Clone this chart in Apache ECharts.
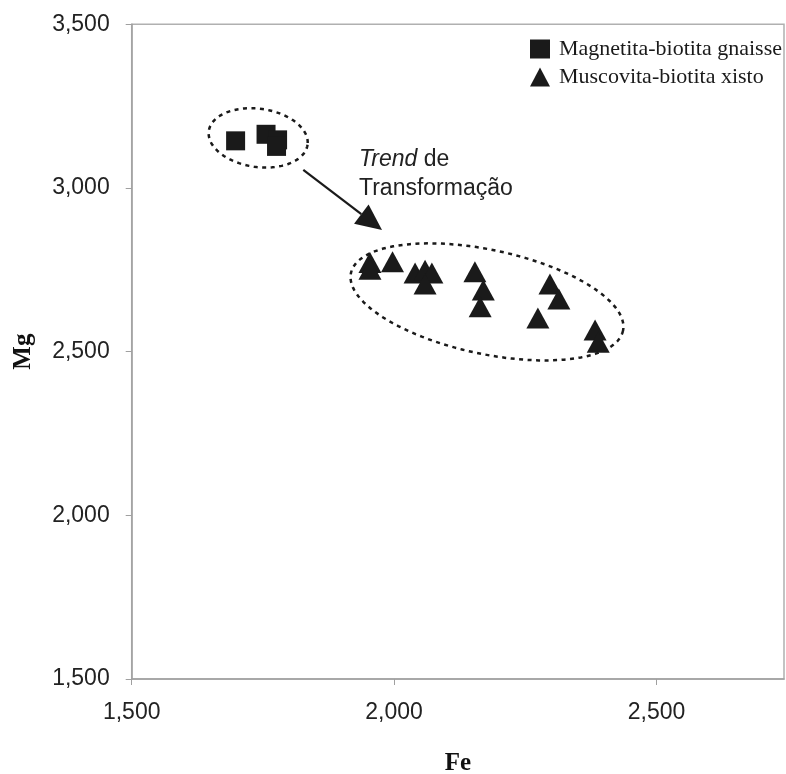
<!DOCTYPE html>
<html>
<head>
<meta charset="utf-8">
<script src="https://cdn.jsdelivr.net/npm/echarts@6/dist/echarts.min.js"></script>
<style>
html,body{margin:0;padding:0;background:#fff;}
#chart{width:786px;height:774px;}
</style>
</head>
<body>
<div id="chart"></div>
<script>
// ---- data ----
const seriesNames = ['Magnetita-biotita gnaisse', 'Muscovita-biotita xisto'];
const gnaisseFe = [1698, 1756, 1778, 1776];
const gnaisseMg = [3144, 3164, 3147, 3127];
const xistoFe = [1954, 1954, 1997, 2040, 2059, 2072, 2059, 2154, 2170, 2164, 2297, 2314, 2274, 2383, 2389];
const xistoMg = [2772, 2752, 2775, 2740, 2749, 2740, 2707, 2744, 2688, 2637, 2707, 2661, 2603, 2566, 2529];
const xTicks = [1500, 2000, 2500];
const yTicks = [1500, 2000, 2500, 3000, 3500];
// group outlines: centre Fe, centre Mg, half-width (Fe units), half-height (Mg units), tilt (deg)
const groupCenterFe = [1741, 2177];
const groupCenterMg = [3153, 2652];
const groupHalfFe = [95, 265];
const groupHalfMg = [89, 159];
const groupTilt = [8, 12];
// trend arrow (Fe, Mg) start and end
const arrowFe = [1827, 1977];
const arrowMg = [3055, 2872];

const chart = echarts.init(document.getElementById('chart'), null, {renderer: 'canvas'});

const ellipseData = groupCenterFe.map((f, i) => [f, groupCenterMg[i], groupHalfFe[i], groupHalfMg[i], groupTilt[i]]);

const option = {
  backgroundColor: '#ffffff',
  animation: false,
  grid: {left: 131.7, top: 24.3, right: 2, bottom: 95, show: true, borderColor: '#b0b0b0', borderWidth: 1.5,
    containLabel: false, outerBoundsMode: 'none'},
  legend: {
    orient: 'vertical', left: 525, top: 33,
    itemWidth: 20, itemHeight: 19, itemGap: 6,
    textStyle: {fontFamily: 'Liberation Serif', fontSize: 22, color: '#1a1a1a', padding: [0, 0, 0, 4]},
    data: [{name: seriesNames[0], icon: 'rect'}, {name: seriesNames[1], icon: 'triangle'}]
  },
  xAxis: {
    type: 'value', min: xTicks[0], max: 2743, interval: 500,
    name: 'Fe', nameLocation: 'middle', nameGap: 72,
    nameTextStyle: {fontFamily: 'Liberation Serif', fontWeight: 'bold', fontSize: 25, color: '#111'},
    axisLine: {show: true, lineStyle: {color: '#a0a0a0', width: 1.5}},
    axisTick: {show: true, length: 6, lineStyle: {color: '#a0a0a0'}},
    splitLine: {show: false},
    axisLabel: {showMaxLabel: false, margin: 22, fontFamily: 'Liberation Sans', fontSize: 23, color: '#222',
      formatter: v => v.toLocaleString('en-US')}
  },
  yAxis: {
    type: 'value', min: yTicks[0], max: yTicks[yTicks.length - 1], interval: 500,
    name: 'Mg', nameLocation: 'middle', nameGap: 96,
    nameTextStyle: {fontFamily: 'Liberation Serif', fontWeight: 'bold', fontSize: 25, color: '#111'},
    axisLine: {show: true, lineStyle: {color: '#a0a0a0', width: 1.5}},
    axisTick: {show: true, length: 6, lineStyle: {color: '#a0a0a0'}},
    splitLine: {show: false},
    axisLabel: {margin: 22, fontFamily: 'Liberation Sans', fontSize: 23, color: '#222',
      formatter: v => v.toLocaleString('en-US')}
  },
  series: [
    {
      type: 'custom', name: 'outlines', silent: true, z: 1,
      data: ellipseData,
      renderItem: function (params, api) {
        const c = api.coord([api.value(0), api.value(1)]);
        const s = api.size([api.value(2), api.value(3)]);
        const th = api.value(4) * Math.PI / 180;
        const pts = [];
        for (let k = 0; k <= 120; k++) {
          const t = k / 120 * Math.PI * 2;
          const ex = s[0] * Math.cos(t), ey = s[1] * Math.sin(t);
          pts.push([c[0] + ex * Math.cos(th) - ey * Math.sin(th), c[1] + ex * Math.sin(th) + ey * Math.cos(th)]);
        }
        return {type: 'polyline', shape: {points: pts},
          style: {stroke: '#1a1a1a', lineWidth: 2.5, lineDash: [4, 4.5], fill: null}};
      }
    },
    {
      type: 'custom', name: 'arrow', silent: true, z: 1,
      data: [[arrowFe[0], arrowMg[0], arrowFe[1], arrowMg[1]]],
      renderItem: function (params, api) {
        const a = api.coord([api.value(0), api.value(1)]);
        const b = api.coord([api.value(2), api.value(3)]);
        const dx = b[0] - a[0], dy = b[1] - a[1];
        const L = Math.sqrt(dx * dx + dy * dy);
        const ux = dx / L, uy = dy / L;
        const hl = 26, hw = 12;
        const bx = b[0] - ux * hl, by = b[1] - uy * hl;
        return {type: 'group', children: [
          {type: 'line', shape: {x1: a[0], y1: a[1], x2: bx, y2: by}, style: {stroke: '#1a1a1a', lineWidth: 2.2}},
          {type: 'polygon', shape: {points: [[b[0], b[1]], [bx - uy * hw, by + ux * hw], [bx + uy * hw, by - ux * hw]]},
            style: {fill: '#1a1a1a'}}
        ]};
      }
    },
    {
      type: 'scatter', name: seriesNames[0], symbol: 'rect', symbolSize: 19, z: 3,
      itemStyle: {color: '#1a1a1a', opacity: 1},
      data: gnaisseFe.map((f, i) => [f, gnaisseMg[i]])
    },
    {
      type: 'scatter', name: seriesNames[1], symbol: 'triangle', symbolSize: [23, 21], z: 3,
      itemStyle: {color: '#1a1a1a', opacity: 1},
      data: xistoFe.map((f, i) => [f, xistoMg[i]])
    }
  ],
  graphic: [
    {
      type: 'text', left: 359, top: 145, silent: true,
      style: {
        text: '{i|Trend} de\nTransformação',
        rich: {i: {fontStyle: 'italic', fontFamily: 'Liberation Sans', fontSize: 23, fill: '#222'}},
        font: '23px "Liberation Sans"', fill: '#222', lineHeight: 29
      }
    }
  ]
};
chart.setOption(option);
</script>
</body>
</html>
